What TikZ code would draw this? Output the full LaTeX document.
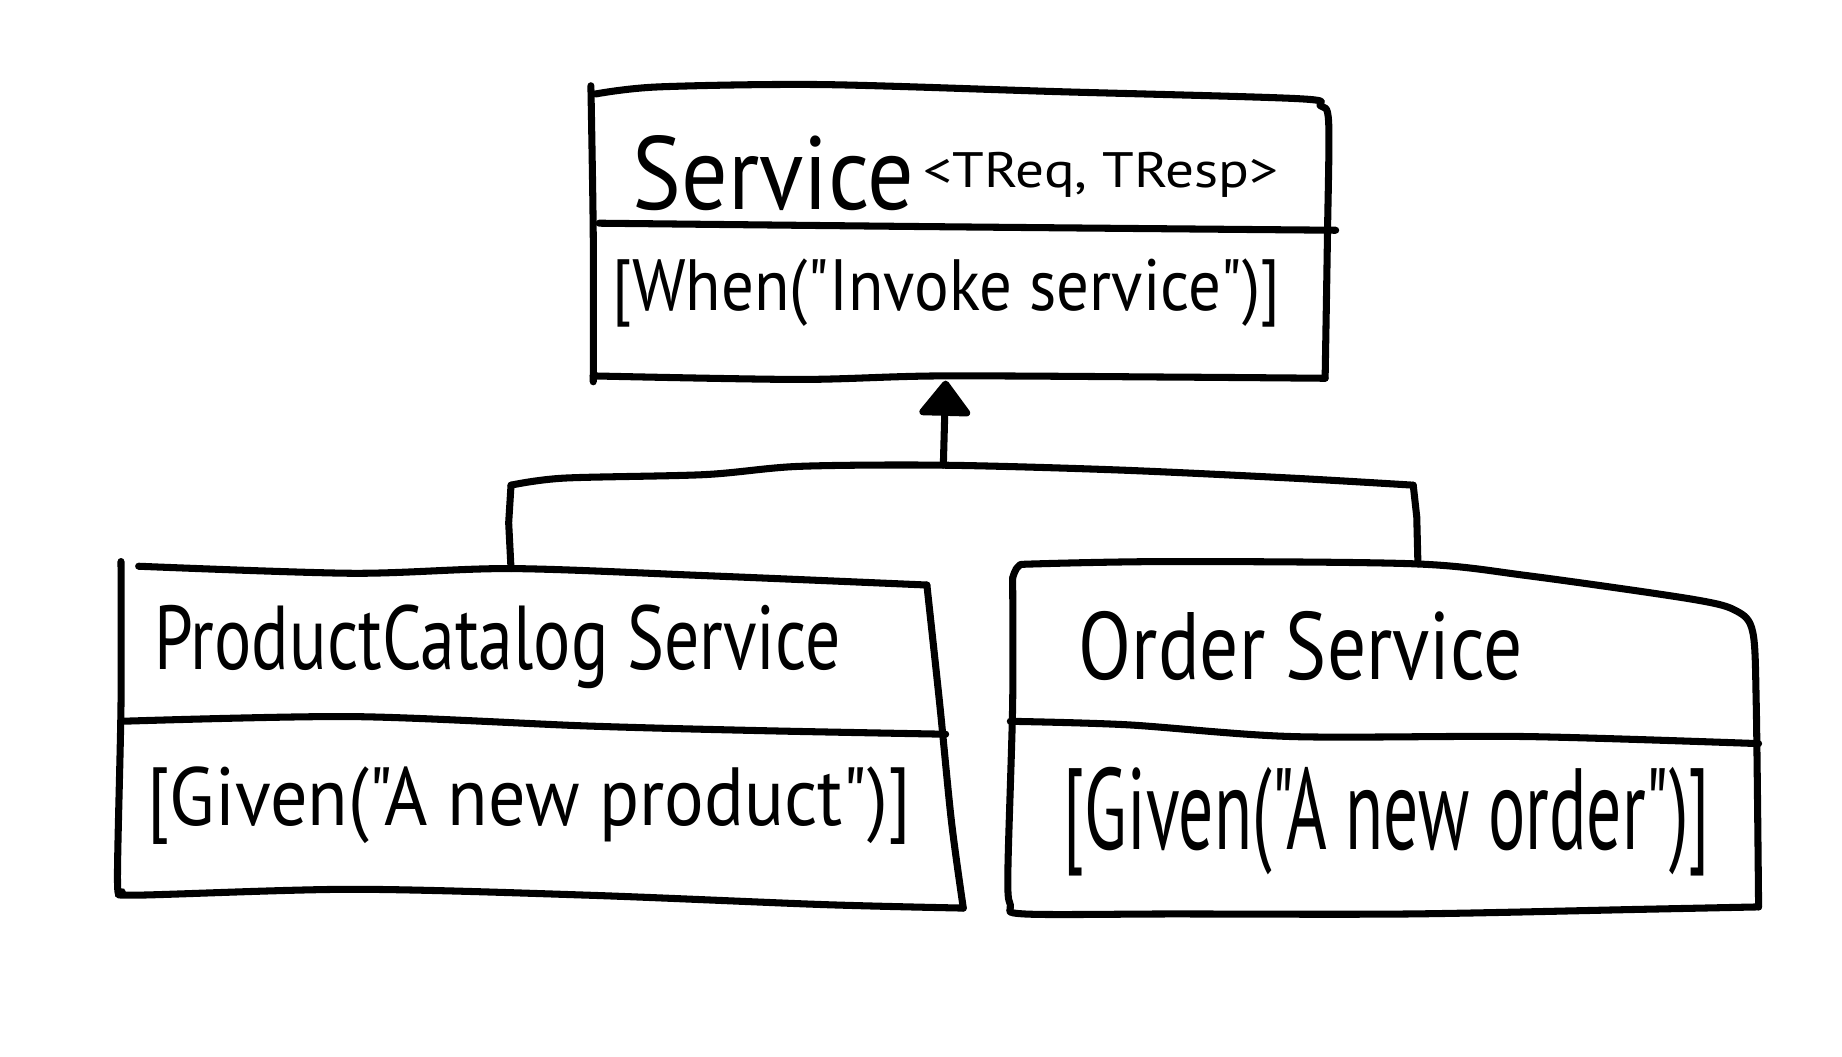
\documentclass[tikz,border=0pt]{standalone}
\usepackage{fontspec}
\setmainfont{PT Sans}
\newfontfamily\hwfont{PT Sans}
\usepackage{graphicx}
\usetikzlibrary{arrows.meta}
\newcommand{\qq}{\symbol{34}}
\begin{document}
\begin{tikzpicture}[x=0.5pt,y=-0.5pt,
  hand/.style={line width=3pt, line cap=round, line join=round},
  lbl/.style={inner sep=0pt, anchor=base west, font=\hwfont}]
\useasboundingbox (0,0) rectangle (1568,899);
\fill[white] (0,0) rectangle (1568,899);

% ---- Service box ----
\draw[hand] plot[smooth, tension=0.5] coordinates {(507,80) (560,74) (700,72) (900,78) (1105,84) (1124,90) (1131,104) (1130,200) (1128,322)};
\draw[hand] plot[smooth, tension=0.5] coordinates {(1128,322) (1000,321) (800,320) (680,323) (505,320)};
\draw[hand] plot[smooth, tension=0.5] coordinates {(503,73) (505,200) (505,325)};
\draw[hand] plot[smooth, tension=0.5] coordinates {(510,190) (800,193) (1137,196)};
\coordinate (svcbot) at (805,324);

% ---- ProductCatalog box ----
\draw[hand] plot[smooth, tension=0.5] coordinates {(118,482) (300,488) (435,484) (600,490) (789,498)};
\draw[hand] plot[smooth, tension=0.5] coordinates {(789,498) (800,600) (810,700) (820,773)};
\draw[hand] plot[smooth, tension=0.5] coordinates {(103,478) (103,600) (100,748) (104,759) (116,762) (300,757) (500,762) (700,770) (820,773)};
\draw[hand] plot[smooth, tension=0.5] coordinates {(103,614) (300,610) (500,618) (650,622) (805,625)};
\coordinate (pcstop) at (435,484);

% ---- Order box ----
\draw[hand] plot[smooth, tension=0.5] coordinates {(862,492) (867,482) (882,480) (1000,478) (1205,480) (1300,490) (1440,510) (1478,520) (1492,538) (1495,600) (1497,772)};
\draw[hand] plot[smooth, tension=0.5] coordinates {(1497,772) (1400,774) (1200,778) (1000,778) (872,778) (860,770) (858,740) (862,600) (862,492)};
\draw[hand] plot[smooth, tension=0.5] coordinates {(860,614) (960,617) (1100,627) (1300,627) (1497,633)};
\coordinate (ostop) at (1207,480);

% ---- inheritance connector ----
\coordinate (join) at (803,396);
\coordinate (lcorner) at (435,413);
\coordinate (rcorner) at (1203,413);
\draw[hand] plot[smooth, tension=0.5] coordinates {(lcorner) (480,407) (600,404) (680,397) (join) (950,400) (1100,407) (rcorner)};
\draw[hand] (lcorner) -- (433,445) -- (pcstop);
\draw[hand] (rcorner) -- (1206,440) -- (ostop);
\draw[hand, -{Triangle[length=16pt, width=24pt, round]}] (join) -- (svcbot);

% ---- texts ----
\node[lbl] (t1) at (538,178) {\resizebox{120pt}{31.5pt}{Service}};
\node[lbl] (t2) at (786,160) {\resizebox{151pt}{15pt}{<TReq, TResp>}};
\node[lbl] (t3) at (521,264) {\resizebox{284pt}{22pt}{[When(\qq Invoke service\qq)]}};
\node[lbl] (t4) at (131,570) {\resizebox{292pt}{27.5pt}{ProductCatalog Service}};
\node[lbl] (t5) at (125,703) {\resizebox{325pt}{25pt}{[Given(\qq A new product\qq)]}};
\node[lbl] (t6) at (918,578) {\resizebox{189pt}{29pt}{Order Service}};
\node[lbl] (t7) at (905,723) {\resizebox{275pt}{35pt}{[Given(\qq A new order\qq)]}};
\end{tikzpicture}
\end{document}
